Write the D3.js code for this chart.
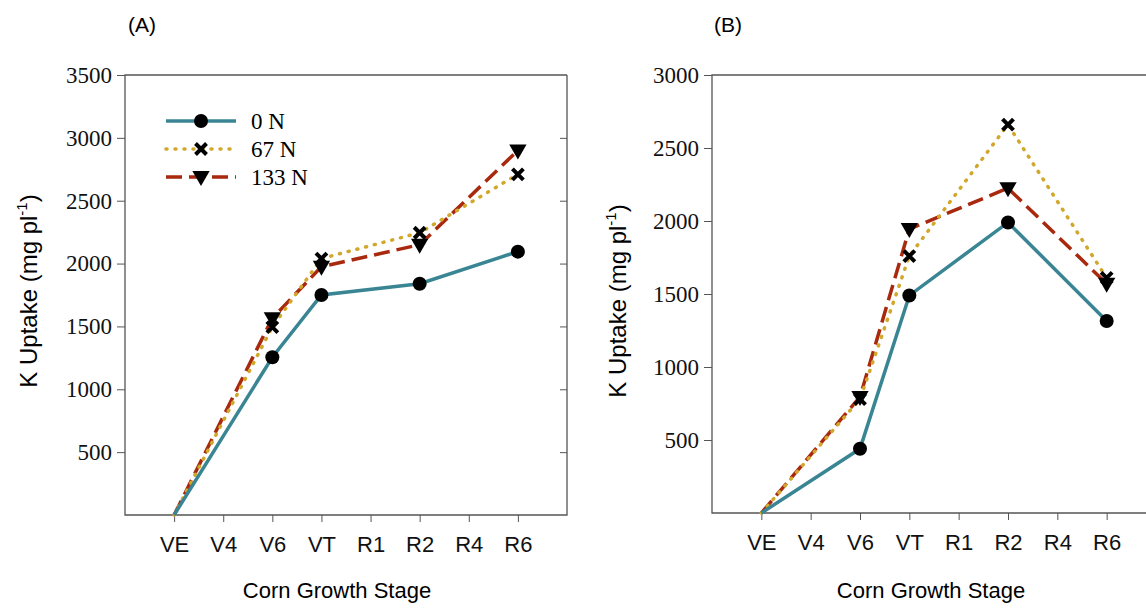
<!DOCTYPE html>
<html>
<head>
<meta charset="utf-8">
<script src="https://cdn.jsdelivr.net/npm/d3@7"></script>
<style>
  body { margin: 0; background: #fff; }
  svg { display: block; }
  .serif text, text.serif { font-family: "Liberation Serif", "Times New Roman", serif; }
  .sans text, text.sans { font-family: "Liberation Sans", Arial, sans-serif; }
</style>
</head>
<body>
<svg id="chart" width="1146" height="609"></svg>
<script>
// growth stages on x
var stages = ["VE", "V4", "V6", "VT", "R1", "R2", "R4", "R6"];
var sampled = ["VE", "V6", "VT", "R2", "R6"];

// panel A values (mg per plant)
var a0N   = [0, 1255, 1750, 1840, 2095];
var a67N  = [0, 1495, 2040, 2245, 2710];
var a133N = [0, 1565, 1975, 2150, 2900];

// panel B values
var b0N   = [0, 440, 1490, 1990, 1315];
var b67N  = [0, 780, 1760, 2660, 1610];
var b133N = [0, 795, 1945, 2225, 1570];

var seriesNames = ["0 N", "67 N", "133 N"];
var colors = ["#3a8593", "#d1a72c", "#a8290e"];
var dashes = [null, "1,8", "16,7"];
var markers = ["circle", "cross", "triangle"];

var ticksA = [500, 1000, 1500, 2000, 2500, 3000, 3500];
var ticksB = [500, 1000, 1500, 2000, 2500, 3000];

var svg = d3.select("#chart");

function drawMarker(g, type, x, y) {
    if (type == "circle") {
        g.append("circle").attr("cx", x).attr("cy", y).attr("r", 7).attr("fill", "#000");
    } else if (type == "cross") {
        var s = 5.5;
        g.append("path")
            .attr("d", "M" + (x - s) + "," + (y - s) + "L" + (x + s) + "," + (y + s) +
                       "M" + (x - s) + "," + (y + s) + "L" + (x + s) + "," + (y - s))
            .attr("stroke", "#000").attr("stroke-width", 4);
    } else {
        var t = d3.symbol().type(d3.symbolTriangle).size(130);
        g.append("path").attr("d", t())
            .attr("transform", "translate(" + x + "," + (y - 1) + ") rotate(180)")
            .attr("fill", "#000");
    }
}

function panel(opts) {
    var x = d3.scaleLinear().domain([-1, 8]).range([opts.left, opts.right]);
    var y = d3.scaleLinear().domain([0, opts.max]).range([opts.bottom, opts.top]);
    var g = svg.append("g");

    // frame
    g.append("path")
        .attr("d", "M" + opts.right + "," + opts.top + "H" + opts.left + "V" + opts.bottom + "H" + opts.right + "V" + opts.top)
        .attr("fill", "none").attr("stroke", "#555").attr("stroke-width", 1.3);

    // left axis, outward ticks
    var yAxis = g.append("g").attr("transform", "translate(" + opts.left + ",0)")
        .call(d3.axisLeft(y).tickValues(opts.ticks).tickFormat(d3.format("d"))
              .tickSize(8).tickSizeOuter(0).tickPadding(5));
    yAxis.attr("font-family", null).attr("font-size", null).classed("serif", true)
        .style("font-size", "23px");
    yAxis.select(".domain").remove();
    yAxis.selectAll("line").attr("stroke", "#555");
    yAxis.selectAll("text").attr("fill", "#111");

    // right inward ticks
    var yRight = g.append("g").attr("transform", "translate(" + opts.right + ",0)")
        .call(d3.axisLeft(y).tickValues(opts.ticks.filter(function(v) { return v < opts.max; })).tickSize(6).tickFormat(""));
    yRight.select(".domain").remove();
    yRight.selectAll("line").attr("x2", -7).attr("stroke", "#555");

    // x axis
    var xAxis = g.append("g").attr("transform", "translate(0," + opts.bottom + ")")
        .call(d3.axisBottom(x).tickValues(d3.range(stages.length))
              .tickFormat(function(i) { return stages[i]; }).tickSize(7).tickPadding(14));
    xAxis.attr("font-family", null).attr("font-size", null).classed("sans", true)
        .style("font-size", "22px");
    xAxis.select(".domain").remove();
    xAxis.selectAll("line").attr("stroke", "#555");
    xAxis.selectAll("text").attr("fill", "#111");

    // lines
    var line = d3.line()
        .x(function(d, i) { return x(stages.indexOf(sampled[i])); })
        .y(function(d) { return y(d); });

    var order = [2, 1, 0];
    order.forEach(function(s) {
        g.append("path").datum(opts.data[s])
            .attr("d", line)
            .attr("fill", "none")
            .attr("stroke", colors[s])
            .attr("stroke-width", 3.5)
            .attr("stroke-linecap", s == 1 ? "round" : "butt")
            .attr("stroke-dasharray", dashes[s]);
    });
    order.forEach(function(s) {
        opts.data[s].forEach(function(v, i) {
            if (i == 0) return;
            drawMarker(g, markers[s], x(stages.indexOf(sampled[i])), y(v));
        });
    });

    // titles
    g.append("text").attr("class", "sans").attr("x", opts.labelX).attr("y", 32)
        .style("font-size", "21px").text(opts.label);

    g.append("text").attr("class", "sans").attr("x", opts.xTitleX).attr("y", 598)
        .attr("text-anchor", "middle").style("font-size", "22px")
        .text("Corn Growth Stage");

    var yt = g.append("text").attr("class", "sans")
        .attr("transform", "translate(" + opts.titleX + "," + opts.titleY + ") rotate(-90)")
        .attr("text-anchor", "middle").style("font-size", "24px");
    yt.append("tspan").text("K Uptake (mg pl");
    yt.append("tspan").attr("dy", -10).style("font-size", "15px").text("-1");
    yt.append("tspan").attr("dy", 10).text(")");

    return g;
}

var gA = panel({left: 125, right: 567, top: 75, bottom: 515, max: 3500, ticks: ticksA,
                data: [a0N, a67N, a133N], label: "(A)", labelX: 128, titleX: 37, titleY: 291, xTitleX: 337});
panel({left: 712, right: 1156, top: 75, bottom: 513, max: 3000, ticks: ticksB,
       data: [b0N, b67N, b133N], label: "(B)", labelX: 714, titleX: 626, titleY: 301, xTitleX: 931});

// legend in panel A
var leg = gA.append("g").attr("class", "serif");
seriesNames.forEach(function(name, i) {
    var ly = 121 + i * 28;
    leg.append("line").attr("x1", 166).attr("x2", 236).attr("y1", ly).attr("y2", ly)
        .attr("stroke", colors[i]).attr("stroke-width", 3.5)
        .attr("stroke-linecap", i == 1 ? "round" : "butt")
        .attr("stroke-dasharray", dashes[i]);
    drawMarker(leg, markers[i], 201, ly);
    leg.append("text").attr("x", 251).attr("y", ly + 8)
        .style("font-size", "23px").text(name);
});
</script>
</body>
</html>
